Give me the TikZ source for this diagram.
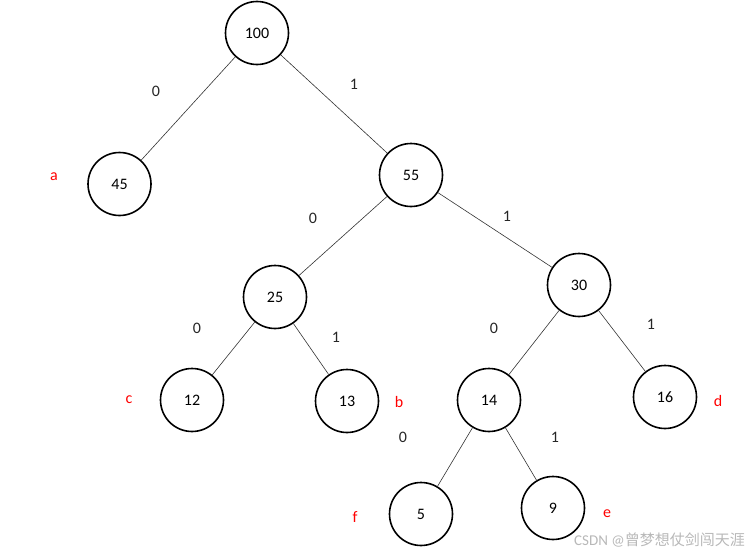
\documentclass[tikz,border=0pt]{standalone}
\usepackage{fontspec}
\setmainfont{Carlito}
\newfontfamily\cjkfont{Noto Sans CJK SC}
\begin{document}
\begin{tikzpicture}[x=1pt,y=-1pt,
  treenode/.style={circle,draw=black,line width=1.6pt,minimum size=63pt,inner sep=0pt,font=\fontsize{16}{19}\selectfont},
  edge/.style={draw=black!80,line width=0.6pt},
  bitlabel/.style={font=\fontsize{16}{19}\selectfont,text=black!85},
  leaflabel/.style={font=\fontsize{16}{19}\selectfont,text=red}]
\useasboundingbox (0,0) rectangle (750,554);
\node[treenode] (n100) at (257,33) {100};
\node[treenode] (n45) at (119.5,184) {45};
\node[treenode] (n55) at (411,175) {55};
\node[treenode] (n25) at (275,297) {25};
\node[treenode] (n30) at (579,285) {30};
\node[treenode] (n12) at (192,400) {12};
\node[treenode] (n13) at (347,401) {13};
\node[treenode] (n14) at (489,400) {14};
\node[treenode] (n16) at (665,397) {16};
\node[treenode] (n5) at (421,514) {5};
\node[treenode] (n9) at (553,508) {9};
\draw[edge] (n100) -- (n45);
\draw[edge] (n100) -- (n55);
\draw[edge] (n55) -- (n25);
\draw[edge] (n55) -- (n30);
\draw[edge] (n25) -- (n12);
\draw[edge] (n25) -- (n13);
\draw[edge] (n30) -- (n14);
\draw[edge] (n30) -- (n16);
\draw[edge] (n14) -- (n5);
\draw[edge] (n14) -- (n9);
\node[bitlabel] (b1) at (156,91) {0};
\node[bitlabel] (b2) at (354,84) {1};
\node[bitlabel] (b3) at (313,218) {0};
\node[bitlabel] (b4) at (507,216) {1};
\node[bitlabel] (b5) at (197,328) {0};
\node[bitlabel] (b6) at (336,337) {1};
\node[bitlabel] (b7) at (494,328) {0};
\node[bitlabel] (b8) at (651,324) {1};
\node[bitlabel] (b9) at (403,437) {0};
\node[bitlabel] (b10) at (555,437) {1};
\node[leaflabel] (la) at (54,177) {a};
\node[leaflabel] (lb) at (399,402) {b};
\node[leaflabel] (lc) at (129,400) {c};
\node[leaflabel] (ld) at (718,401) {d};
\node[leaflabel] (le) at (607,514) {e};
\node[leaflabel] (lf) at (355,517) {f};
\node[font=\fontsize{15}{18}\selectfont,text=black!28,anchor=east,inner sep=0pt] (wm) at (745,540) {CSDN @\cjkfont 曾梦想仗剑闯天涯};
\end{tikzpicture}
\end{document}
